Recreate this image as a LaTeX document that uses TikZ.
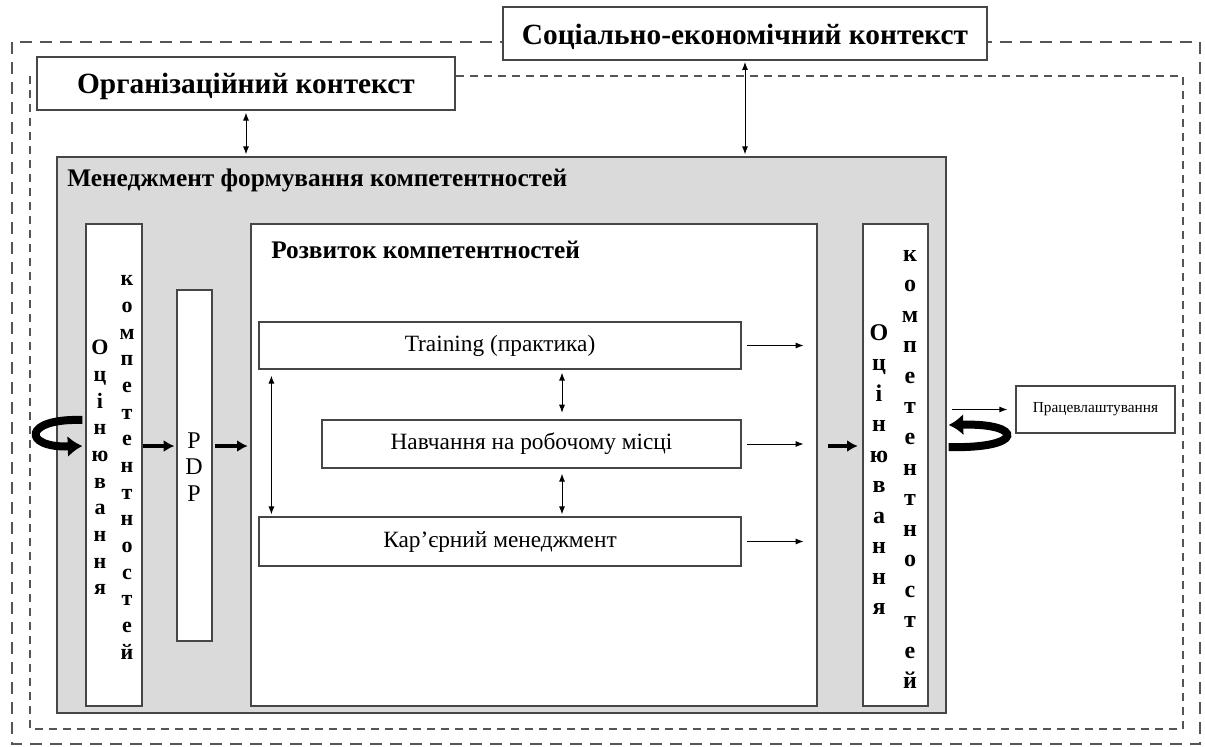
\documentclass[tikz,border=0pt]{standalone}
\usepackage{fontspec}
\setmainfont{Liberation Serif}
\usetikzlibrary{positioning, arrows.meta, calc, fit}

\definecolor{framegray}{RGB}{85,85,85}
\definecolor{panelgray}{RGB}{218,218,218}
\definecolor{edgegray}{RGB}{70,70,70}

\begin{document}
\begin{tikzpicture}[x=0.75pt, y=-0.75pt]
		% Estilos de bloques, textos y flechas
		\tikzset{
			block/.style={
					rectangle, draw=edgegray, fill=white,
					line width=0.9pt, inner sep=0pt
				},
			panel/.style={
					block, fill=panelgray
				},
			outer frame/.style={
					draw=framegray, line width=2pt, dash pattern=on 9pt off 6pt
				},
			inner frame/.style={
					draw=framegray, line width=1.2pt, dash pattern=on 6pt off 4.5pt
				},
			context text/.style={font=\bfseries\fontsize{22}{26}\selectfont, inner sep=0pt},
			title text/.style={font=\bfseries\fontsize{19}{22}\selectfont, anchor=west, inner sep=0pt},
			item text/.style={font=\fontsize{17.5}{20}\selectfont, inner sep=0pt},
			small text/.style={font=\fontsize{11.5}{14}\selectfont, inner sep=0pt},
			pdp text/.style={font=\fontsize{18}{20}\selectfont, align=center, inner sep=0pt},
			letters left/.style={align=center, inner sep=0pt, font=\bfseries\fontsize{16.5}{20}\selectfont},
			letters right/.style={align=center, inner sep=0pt, font=\bfseries\fontsize{18}{22.9}\selectfont},
			thin arrow/.style={draw, -{Latex[length=6pt, width=4.5pt]}, line width=0.7pt},
			both arrow/.style={draw, {Latex[length=6pt, width=4.5pt]}-{Latex[length=6pt, width=4.5pt]}, line width=0.7pt},
			thick arrow/.style={draw, -{Latex[length=8pt, width=9pt]}, line width=2.8pt},
			loop arrow/.style={draw, -{Latex[length=11pt, width=16pt]}, line width=6pt}
		}
		\useasboundingbox (0,0) rectangle (1205,746);

		% Marcos de contexto
		\draw[outer frame] (12,42) rectangle (1200,744);
		\draw[inner frame] (30,76) rectangle (1183,729);

		% Bloques
		\node[block, fit={(503,7) (987,60)}] (socio) {};
		\node[block, fit={(37,57) (455,110)}] (org) {};
		\node[panel, fit={(57,157) (946,713)}] (mgmt) {};
		\node[block, fit={(86,224) (142,706)}] (assessL) {};
		\node[block, fit={(177,290) (212,641)}] (pdp) {};
		\node[block, fit={(251,224) (817,706)}] (dev) {};
		\node[block, fit={(259,322) (741,369)}] (train) {};
		\node[block, fit={(322,420) (741,468)}] (job) {};
		\node[block, fit={(259,517) (741,566)}] (career) {};
		\node[block, fit={(863,224) (928,706)}] (assessR) {};
		\node[block, fit={(1016,386) (1175,433)}] (work) {};

		% Textos
		\node[context text] (sociolbl) at ($(socio.center)+(0,3)$) {Соціально-економічний контекст};
		\node[context text] (orglbl) at ($(org.center)+(0,3)$) {Організаційний контекст};
		\node[title text] (mgmtlbl) at (67,180) {Менеджмент формування компетентностей};
		\node[title text] (devlbl) at (271,250) {Розвиток компетентностей};
		\node[pdp text] (pdplbl) at (194,467) {P\\D\\P};
		\node[item text] (trainlbl) at (train.center) {Training (практика)};
		\node[item text] (joblbl) at (job.center) {Навчання на робочому місці};
		\node[item text] (careerlbl) at (career.center) {Кар’єрний менеджмент};
		\node[small text] (worklbl) at (work.center) {Працевлаштування};

		% Texto vertical
		\node[letters left] (lcol1) at (100,467.5) {О\\ц\\і\\н\\ю\\в\\а\\н\\н\\я};
		\node[letters left] (lcol2) at (127,467.5) {к\\о\\м\\п\\е\\т\\е\\н\\т\\н\\о\\с\\т\\е\\й};
		\node[letters right] (rcol1) at (879,469.5) {О\\ц\\і\\н\\ю\\в\\а\\н\\н\\я};
		\node[letters right] (rcol2) at (910,469.5) {к\\о\\м\\п\\е\\т\\е\\н\\т\\н\\о\\с\\т\\е\\й};

		% Flechas
		\coordinate (flow) at (0,446);
		\coordinate (pairx) at (562,0);
		\draw[both arrow, shorten <=1.5pt, shorten >=1.5pt] (org.south) -- (org.south |- mgmt.north);
		\draw[both arrow, shorten <=1pt, shorten >=1.5pt] (socio.south) -- (socio.south |- mgmt.north);
		\draw[thick arrow, shorten >=1.5pt] (assessL.east |- flow) -- (pdp.west |- flow);
		\draw[thick arrow, shorten <=2pt, shorten >=2pt] (pdp.east |- flow) -- (dev.west |- flow);
		\draw[thick arrow, shorten <=7.5pt, shorten >=3.5pt] (dev.east |- flow) -- (assessR.west |- flow);
		\foreach \blk in {train, job, career} {
				\draw[thin arrow, shorten <=3.75pt, shorten >=10.5pt] (\blk.east) -- (dev.east |- \blk.east);
			}
		\draw[both arrow, shorten <=2.25pt, shorten >=5pt] (train.south -| pairx) -- (job.north -| pairx);
		\draw[both arrow, shorten <=3.75pt, shorten >=1.5pt] (job.south -| pairx) -- (career.north -| pairx);
		\draw[both arrow, shorten <=4.5pt, shorten >=1.5pt] ($(train.south west)+(13,0)$) -- ($(career.north west)+(13,0)$);
		\draw[loop arrow] ($(assessL.west)+(-3,-45)$) .. controls +(-60,-2) and +(-60,2) .. ($(assessL.west)+(-3,-19)$);
		\draw[loop arrow] ($(mgmt.east)+(2,12)$) .. controls +(76,2) and +(76,-2) .. ($(mgmt.east)+(2,-10)$);
		\draw[thin arrow, shorten >=6pt] ($(mgmt.east |- work.west)+(5,0)$) -- (work.west);
	\end{tikzpicture}
\end{document}
